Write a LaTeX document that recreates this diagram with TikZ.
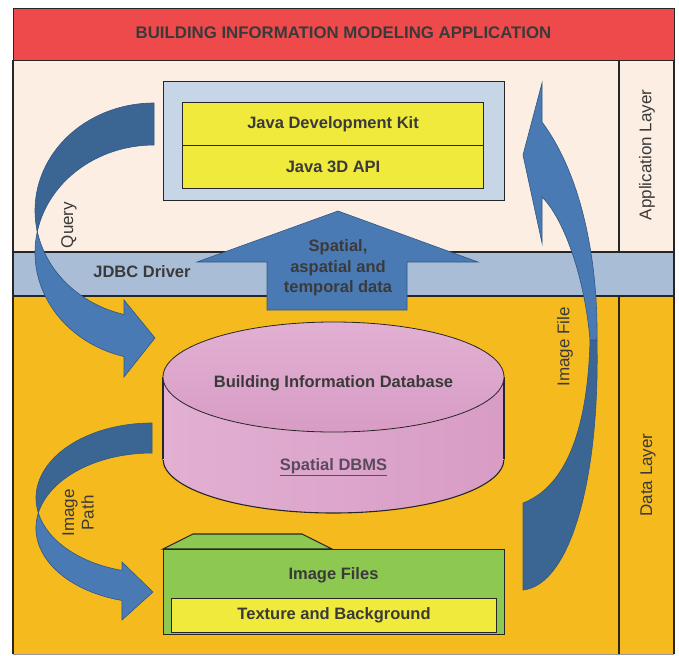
\documentclass[tikz,border=0pt]{standalone}
\usepackage{fontspec}
\setmainfont{Liberation Sans}
\definecolor{redband}{HTML}{EE4A4B}
\definecolor{peach}{HTML}{FCEEE2}
\definecolor{jdbcc}{HTML}{AABDD7}
\definecolor{dataor}{HTML}{F5BA1E}
\definecolor{javabg}{HTML}{C6D6E6}
\definecolor{yel}{HTML}{EFEA3B}
\definecolor{grn}{HTML}{8DC851}
\definecolor{pinkl}{HTML}{E2B0D3}
\definecolor{pinkd}{HTML}{D89CC5}
\definecolor{bluel}{HTML}{4A7AB4}
\definecolor{blued}{HTML}{3B6593}
\definecolor{blueedge}{HTML}{2F5784}
\definecolor{txtgray}{HTML}{3A3A3A}
\definecolor{dbmstxt}{HTML}{5A4A5E}
\begin{document}
\begin{tikzpicture}[x=1pt,y=-1pt,
  edge/.style={draw=black!85, line width=1.1pt},
  boxn/.style={edge, inner sep=0pt, anchor=north west},
  txt/.style={font=\bfseries\fontsize{16.5}{20.5}\selectfont, text=txtgray, align=center},
  side/.style={font=\fontsize{17}{19.5}\selectfont, text=txtgray, rotate=90, align=center},
  ribbonl/.style={fill=bluel, draw=blueedge, line width=0.6pt},
  ribbond/.style={fill=blued, draw=blueedge, line width=0.6pt}]
\useasboundingbox (0,0) rectangle (679,655);
% bands
\fill[peach] (13,60) rectangle (674,252);
\fill[dataor] (13,296) rectangle (674,654);
\draw[edge, fill=jdbcc] (13,252) rectangle (674,296);
\draw[edge] (619,60) -- (619,252);
\draw[edge] (619,296) -- (619,654);
\draw[edge] (13,60) -- (13,654);
\draw[edge] (674,60) -- (674,654);
\draw[black!40, line width=0.6pt] (13,654) -- (674,654);
\node[boxn, fill=redband, minimum width=661pt, minimum height=52pt] (band) at (13,8) {};
\node[txt, font=\bfseries\fontsize{16.8}{20}\selectfont] (title) at (343.5,33) {BUILDING INFORMATION MODELING APPLICATION};
% Java box
\node[boxn, fill=javabg, minimum width=341pt, minimum height=119pt] (javabox) at (163,81) {};
\node[boxn, fill=yel, minimum width=301pt, minimum height=43pt] (jdk) at (182,102) {};
\node[boxn, fill=yel, minimum width=301pt, minimum height=43pt] (j3d) at (182,145) {};
\node[txt] (jdktxt) at (jdk.center) {Java Development Kit};
\node[txt] (j3dtxt) at (j3d.center) {Java 3D API};
% cylinder
\draw[edge, left color=pinkl, right color=pinkd] (333.5,459) ellipse[x radius=170.5pt, y radius=54pt];
\shade[left color=pinkl, right color=pinkd] (163,377) rectangle (504,459);
\draw[edge] (163,377) -- (163,459);
\draw[edge] (504,377) -- (504,459);
\draw[draw=black!85, line width=0.8pt, top color=pinkl, bottom color=pinkd] (333.5,377) ellipse[x radius=170.5pt, y radius=55pt];
\node[txt] (dbtxt) at (333.5,383) {Building Information Database};
\node[txt, text=dbmstxt] (dbmstxt) at (333.5,467) {\underline{Spatial DBMS}};
% image files
\draw[edge, fill=grn] (163,549) -- (193,534) -- (302,534) -- (332,549) -- cycle;
\node[boxn, fill=grn, minimum width=341pt, minimum height=85pt] (imgbox) at (163,549) {};
\node[boxn, fill=yel, minimum width=325pt, minimum height=34pt] (texbox) at (171,598) {};
\node[txt] (imgtxt) at (333.5,575) {Image Files};
\node[txt] (textxt) at (texbox.center) {Texture and Background};
% JDBC text
\node[txt] (jdbctxt) at (142,272) {JDBC Driver};
% big up arrow
\draw[ribbonl] (338,211) -- (478,262) -- (407,262) -- (407,310) -- (267,310) -- (267,262) -- (197,262) -- cycle;
\node[txt] (sadata) at (338,268) {Spatial,\\aspatial and\\temporal data};
% Query arrow
\draw[ribbond] (154,103) arc[start angle=90, end angle=191.27, x radius=119pt, y radius=107.5pt]
  arc[start angle=168.73, end angle=90, x radius=119pt, y radius=107.5pt] -- cycle;
\draw[ribbonl] (37.3,231.5) arc[start angle=168.73, end angle=255.4, x radius=119pt, y radius=107.5pt]
  -- (124,377) -- (155,338) -- (124,300) -- (124,314.5)
  arc[start angle=255.4, end angle=191.27, x radius=119pt, y radius=107.5pt] -- cycle;
\node[side] (query) at (69,225) {Query};
% Image Path arrow
\draw[ribbond] (152,423) arc[start angle=90, end angle=191.54, x radius=116pt, y radius=75pt]
  arc[start angle=168.46, end angle=90, x radius=116pt, y radius=75pt] -- cycle;
\draw[ribbonl] (38.3,513) arc[start angle=168.46, end angle=255, x radius=116pt, y radius=75pt]
  -- (122,620) -- (153,592) -- (122,562) -- (122,570.4)
  arc[start angle=255, end angle=191.54, x radius=116pt, y radius=75pt] -- cycle;
\node[side] (imgpath) at (78,513) {Image\\Path};
% Image File arrow
\draw[ribbond] (590,340) .. controls (588,420) and (570,485) .. (523,503) -- (523,590)
  .. controls (570,585) and (600,480) .. (597,340) -- cycle;
\draw[ribbonl] (542,83) -- (523,155) -- (542,243) -- (542,197)
  .. controls (565,220) and (585,280) .. (590,340) -- (597,340)
  .. controls (598,270) and (585,180) .. (542,122) -- cycle;
\node[side] (imgfile) at (565,347) {Image File};
% layer labels
\node[side] (applayer) at (647,155) {Application Layer};
\node[side] (datalayer) at (648,475) {Data Layer};
\end{tikzpicture}
\end{document}
